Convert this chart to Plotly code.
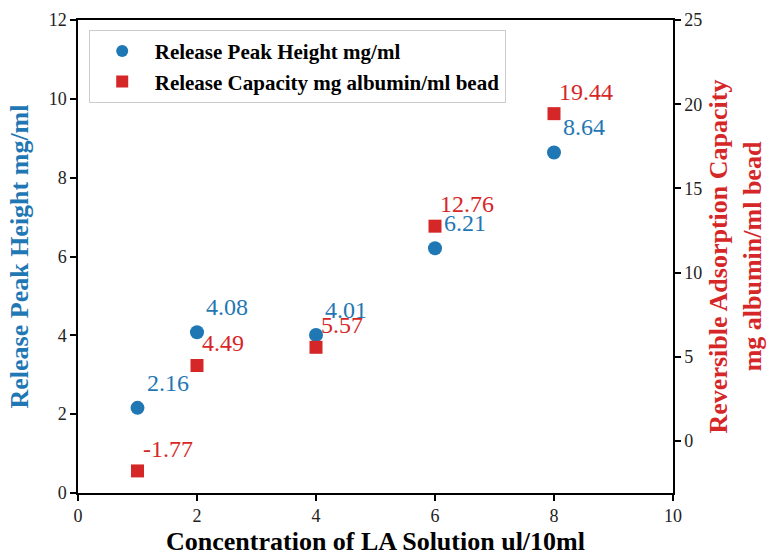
import plotly.graph_objects as go

conc = [1, 2, 4, 6, 8]
peak_height = [2.16, 4.08, 4.01, 6.21, 8.64]
capacity = [-1.77, 4.49, 5.57, 12.76, 19.44]

BLUE = "#1f77b4"
RED = "#d62728"
FONT = "Liberation Serif, Times New Roman, serif"

fig = go.Figure()
fig.add_trace(go.Scatter(x=conc, y=peak_height, mode="markers",
                         marker=dict(symbol="circle", size=14, color=BLUE),
                         name="Release Peak Height mg/ml", yaxis="y"))
fig.add_trace(go.Scatter(x=conc, y=capacity, mode="markers",
                         marker=dict(symbol="square", size=13, color=RED),
                         name="Release Capacity mg albumin/ml bead", yaxis="y2"))

annotations = []
for x, y in zip(conc, peak_height):
    annotations.append(dict(x=x, y=y, xref="x", yref="y", text=f"{y:.2f}",
                            showarrow=False, xanchor="left", yanchor="middle",
                            xshift=7, yshift=25,
                            font=dict(family=FONT, size=24, color=BLUE)))
for x, y in zip(conc, capacity):
    annotations.append(dict(x=x, y=y, xref="x", yref="y2", text=f"{y:.2f}",
                            showarrow=False, xanchor="left", yanchor="middle",
                            xshift=3, yshift=22,
                            font=dict(family=FONT, size=24, color=RED)))

axis_common = dict(showgrid=False, zeroline=False, showline=True, linecolor="black",
                   linewidth=1.5, ticks="outside", ticklen=6, tickwidth=1.5,
                   tickcolor="black", automargin=False,
                   tickfont=dict(family=FONT, size=18, color="#222"))

fig.update_layout(
    width=767, height=556,
    margin=dict(l=77.5, r=93.5, t=20, b=63),
    plot_bgcolor="white", paper_bgcolor="white",
    font=dict(family=FONT),
    xaxis=dict(range=[0, 10], tickvals=[0, 2, 4, 6, 8, 10], mirror=True,
               title=dict(text="<b>Concentration of LA Solution ul/10ml</b>",
                          font=dict(family=FONT, size=26, color="black"), standoff=16),
               **axis_common),
    yaxis=dict(range=[0, 12], tickvals=[0, 2, 4, 6, 8, 10, 12],
               title=dict(text="<b>Release Peak Height mg/ml</b>",
                          font=dict(family=FONT, size=26, color=BLUE), standoff=13),
               **axis_common),
    yaxis2=dict(range=[-3.08, 25], tickvals=[0, 5, 10, 15, 20, 25], overlaying="y",
                side="right",
                title=dict(text="<b>Reversible Adsorption Capacity<br>mg albumin/ml bead</b>",
                           font=dict(family=FONT, size=26, color=RED), standoff=16),
                **axis_common),
    legend=dict(x=0.018, y=0.979, xanchor="left", yanchor="top",
                bgcolor="white", bordercolor="#cccccc", borderwidth=1,
                font=dict(family=FONT, size=21, color="black", weight="bold"),
                itemwidth=55, itemsizing="constant", tracegroupgap=0),
    annotations=annotations,
    showlegend=True,
)

fig.write_html("out.html")
